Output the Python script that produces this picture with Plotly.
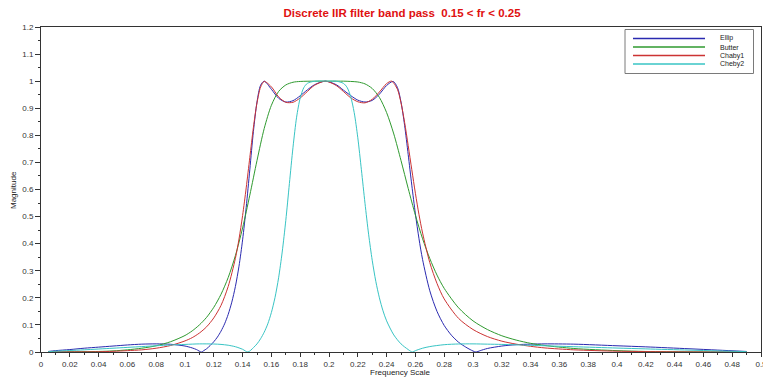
import plotly.graph_objects as go

# ---------------- data ----------------
series_names = ["Ellip", "Butter", "Chaby1", "Cheby2"]

freq_ellip = [0.005, 0.01, 0.02, 0.03, 0.04, 0.05, 0.06, 0.07, 0.08, 0.09, 0.10, 0.105, 0.108,
              0.1114, 0.113, 0.115, 0.1175, 0.12, 0.1225, 0.125, 0.1275, 0.13, 0.1325, 0.135,
              0.1375, 0.14, 0.1425, 0.145, 0.1475, 0.15, 0.1525, 0.155, 0.16, 0.165, 0.17, 0.175,
              0.18, 0.185, 0.19, 0.1975, 0.205, 0.21, 0.215, 0.22, 0.225, 0.23, 0.235, 0.24,
              0.2445, 0.2475, 0.25, 0.2525, 0.255, 0.2575, 0.26, 0.2625, 0.265, 0.27, 0.275,
              0.28, 0.285, 0.29, 0.295, 0.298, 0.302, 0.305, 0.31, 0.32, 0.33, 0.34, 0.35,
              0.37, 0.40, 0.42, 0.45, 0.47, 0.49]
mag_ellip = [0.002, 0.005, 0.009, 0.014, 0.018, 0.022, 0.026, 0.029, 0.030, 0.0285, 0.022, 0.015, 0.009,
             0.0, 0.005, 0.012, 0.024, 0.038, 0.055, 0.077, 0.104, 0.139, 0.184, 0.242,
             0.317, 0.414, 0.534, 0.673, 0.814, 0.923, 0.985, 1.0, 0.970, 0.937, 0.923, 0.928,
             0.946, 0.968, 0.987, 1.0, 0.987, 0.967, 0.947, 0.930, 0.923, 0.929, 0.952, 0.984,
             0.999, 0.977, 0.923, 0.837, 0.729, 0.616, 0.510, 0.418, 0.341, 0.226, 0.150,
             0.098, 0.062, 0.036, 0.018, 0.009, 0.0, 0.005, 0.013, 0.022, 0.027, 0.029, 0.030,
             0.029, 0.023, 0.019, 0.012, 0.007, 0.002]

freq_butter = [0.005, 0.04, 0.05, 0.06, 0.07, 0.08, 0.09, 0.10, 0.105, 0.11, 0.115, 0.12, 0.125,
               0.13, 0.135, 0.14, 0.145, 0.15, 0.155, 0.16, 0.165, 0.17, 0.175, 0.18, 0.19,
               0.20, 0.21, 0.215, 0.22, 0.225, 0.23, 0.235, 0.24, 0.245, 0.25, 0.255, 0.26,
               0.265, 0.27, 0.275, 0.28, 0.29, 0.30, 0.31, 0.32, 0.33, 0.34, 0.35, 0.37, 0.40,
               0.42, 0.45, 0.49]
mag_butter = [0.0, 0.002, 0.004, 0.008, 0.014, 0.023, 0.038, 0.061, 0.078, 0.100, 0.128, 0.165, 0.213,
              0.275, 0.356, 0.458, 0.579, 0.707, 0.825, 0.911, 0.962, 0.986, 0.996, 0.999, 1.0,
              1.0, 1.0, 0.999, 0.997, 0.990, 0.973, 0.940, 0.884, 0.805, 0.707, 0.604, 0.505,
              0.418, 0.345, 0.284, 0.235, 0.163, 0.115, 0.083, 0.060, 0.044, 0.032, 0.024, 0.013, 0.005,
              0.002, 0.0005, 0.0]

freq_cheby1 = [0.005, 0.03, 0.04, 0.05, 0.06, 0.07, 0.08, 0.09, 0.10, 0.105, 0.11, 0.115, 0.12,
               0.125, 0.13, 0.135, 0.1375, 0.14, 0.1425, 0.145, 0.1475, 0.15, 0.1525, 0.155,
               0.16, 0.165, 0.17, 0.175, 0.18, 0.185, 0.19, 0.1975, 0.205, 0.21, 0.215, 0.22,
               0.225, 0.23, 0.235, 0.24, 0.2435, 0.2475, 0.25, 0.2525, 0.255, 0.2575, 0.26,
               0.2625, 0.265, 0.27, 0.275, 0.28, 0.29, 0.30, 0.31, 0.32, 0.33, 0.34, 0.35,
               0.37, 0.40, 0.43, 0.46, 0.49]
mag_cheby1 = [0.0, 0.0005, 0.001, 0.0025, 0.005, 0.008, 0.014, 0.024, 0.041, 0.053, 0.070, 0.093, 0.126,
              0.172, 0.242, 0.346, 0.417, 0.504, 0.606, 0.718, 0.829, 0.920, 0.978, 0.999,
              0.979, 0.942, 0.922, 0.922, 0.938, 0.962, 0.985, 1.0, 0.984, 0.962, 0.939, 0.924,
              0.920, 0.933, 0.960, 0.991, 1.0, 0.970, 0.920, 0.848, 0.762, 0.673, 0.586,
              0.507, 0.439, 0.330, 0.253, 0.196, 0.124, 0.083, 0.057, 0.040, 0.029, 0.021, 0.015,
              0.008, 0.003, 0.001, 0.0, 0.0]

freq_cheby2 = [0.005, 0.01, 0.02, 0.03, 0.05, 0.07, 0.08, 0.09, 0.10, 0.11, 0.12, 0.125, 0.13,
               0.135, 0.14, 0.1437, 0.1475, 0.15, 0.1525, 0.155, 0.1575, 0.16, 0.1625, 0.165,
               0.1675, 0.17, 0.1725, 0.175, 0.1775, 0.18, 0.1825, 0.185, 0.19, 0.20, 0.205,
               0.21, 0.2125, 0.215, 0.2175, 0.22, 0.2225, 0.225, 0.2275, 0.23, 0.2325, 0.235,
               0.2375, 0.24, 0.245, 0.25, 0.255, 0.2579, 0.26, 0.265, 0.27, 0.28, 0.29, 0.30,
               0.31, 0.32, 0.33, 0.35, 0.37, 0.40, 0.42, 0.45, 0.47, 0.49]
mag_cheby2 = [0.001, 0.003, 0.0055, 0.008, 0.014, 0.020, 0.023, 0.026, 0.028, 0.030, 0.0295, 0.028, 0.025,
              0.0195, 0.010, 0.0, 0.016, 0.030, 0.049, 0.073, 0.104, 0.146, 0.201, 0.274,
              0.369, 0.486, 0.622, 0.756, 0.867, 0.938, 0.976, 0.992, 0.9997, 1.0, 1.0,
              0.992, 0.9775, 0.944, 0.884, 0.791, 0.673, 0.549, 0.435, 0.339, 0.261, 0.200,
              0.152, 0.115, 0.063, 0.030, 0.009, 0.0, 0.005, 0.014, 0.020, 0.027, 0.0296, 0.030,
              0.029, 0.028, 0.0265, 0.023, 0.0196, 0.0146, 0.0115, 0.007, 0.004, 0.0014]

x_tick_text = ["0", "0.02", "0.04", "0.06", "0.08", "0.1", "0.12", "0.14", "0.16", "0.18", "0.2",
               "0.22", "0.24", "0.26", "0.28", "0.3", "0.32", "0.34", "0.36", "0.38", "0.4",
               "0.42", "0.44", "0.46", "0.48", "0.5"]
x_tick_vals = [float(t) for t in x_tick_text]
y_tick_text = ["0", "0.1", "0.2", "0.3", "0.4", "0.5", "0.6", "0.7", "0.8", "0.9", "1", "1.1", "1.2"]
y_tick_vals = [float(t) for t in y_tick_text]

# ---------------- styling ----------------
W, H = 763, 383
ML, MR, MT, MB = 41, 2, 27, 31
colors = ["#2a2ab0", "#2f9a2f", "#cc3333", "#38c4c4"]
FONT = "Liberation Sans, Arial, sans-serif"

series = [(freq_ellip, mag_ellip), (freq_butter, mag_butter),
          (freq_cheby1, mag_cheby1), (freq_cheby2, mag_cheby2)]

fig = go.Figure()
for name, (fx, my), col in zip(series_names, series, colors):
    fig.add_trace(go.Scatter(x=fx, y=my, mode="lines", name=name,
                             line=dict(color=col, width=1, shape="spline", smoothing=0.8),
                             showlegend=False, hoverinfo="skip"))

axis_common = dict(showline=True, linecolor="#333333", linewidth=1, mirror=True,
                   showgrid=False, zeroline=False, ticks="outside", tickcolor="#333333",
                   tickwidth=1, tickfont=dict(family=FONT, size=8, color="#333333"),
                   ticklabeloverflow="allow", automargin=False)

fig.update_xaxes(range=[0, 0.5], tickmode="array", tickvals=x_tick_vals, ticktext=x_tick_text,
                 ticklen=4, minor=dict(ticks="outside", dtick=0.01, tick0=0, ticklen=2,
                                       tickcolor="#333333"),
                 **axis_common)
fig.update_yaxes(range=[0, 1.2], tickmode="array", tickvals=y_tick_vals, ticktext=y_tick_text,
                 ticklen=5, minor=dict(ticks="outside", dtick=0.05, tick0=0, ticklen=2,
                                       tickcolor="#333333"),
                 **axis_common)

pw, ph = W - ML - MR, H - MT - MB


def px_x(p):
    return (p - ML) / pw


def px_y(p):
    return (H - MB - p) / ph


shapes = [dict(type="rect", xref="paper", yref="paper",
               x0=px_x(625), x1=px_x(753.5), y0=px_y(73.5), y1=px_y(29.5),
               line=dict(color="#7a7a7a", width=1), fillcolor="white", layer="above")]
annotations = []
legend_rows = [38.5, 47, 55.5, 64]
for name, col, yy in zip(series_names, colors, legend_rows):
    shapes.append(dict(type="line", xref="paper", yref="paper", x0=px_x(633), x1=px_x(705),
                       y0=px_y(yy), y1=px_y(yy), line=dict(color=col, width=1.5), layer="above"))
    annotations.append(dict(text=name, xref="paper", yref="paper", x=px_x(718), y=px_y(yy),
                            xanchor="left", yanchor="middle", showarrow=False,
                            font=dict(family=FONT, size=7, color="#222222")))

annotations.append(dict(text="Frequency Scale", xref="paper", yref="paper", x=px_x(400),
                        y=px_y(373), xanchor="center", yanchor="middle", showarrow=False,
                        font=dict(family=FONT, size=8, color="#222222")))
annotations.append(dict(text="Magnitude", xref="paper", yref="paper", x=px_x(14),
                        y=px_y(190), xanchor="center", yanchor="middle", showarrow=False,
                        textangle=-90, font=dict(family=FONT, size=8, color="#222222")))

fig.update_layout(
    width=W, height=H, margin=dict(l=ML, r=MR, t=MT, b=MB, autoexpand=False),
    paper_bgcolor="white", plot_bgcolor="white",
    title=dict(text="<b>Discrete IIR filter band pass \u00a00.15 &lt; fr &lt; 0.25</b>",
               x=px_x(402), xref="paper", xanchor="center",
               y=1 - 12.5 / H, yref="container", yanchor="middle",
               font=dict(family=FONT, size=11.5, color="#e01010")),
    shapes=shapes, annotations=annotations, showlegend=False,
)

fig.write_html("out.html")
